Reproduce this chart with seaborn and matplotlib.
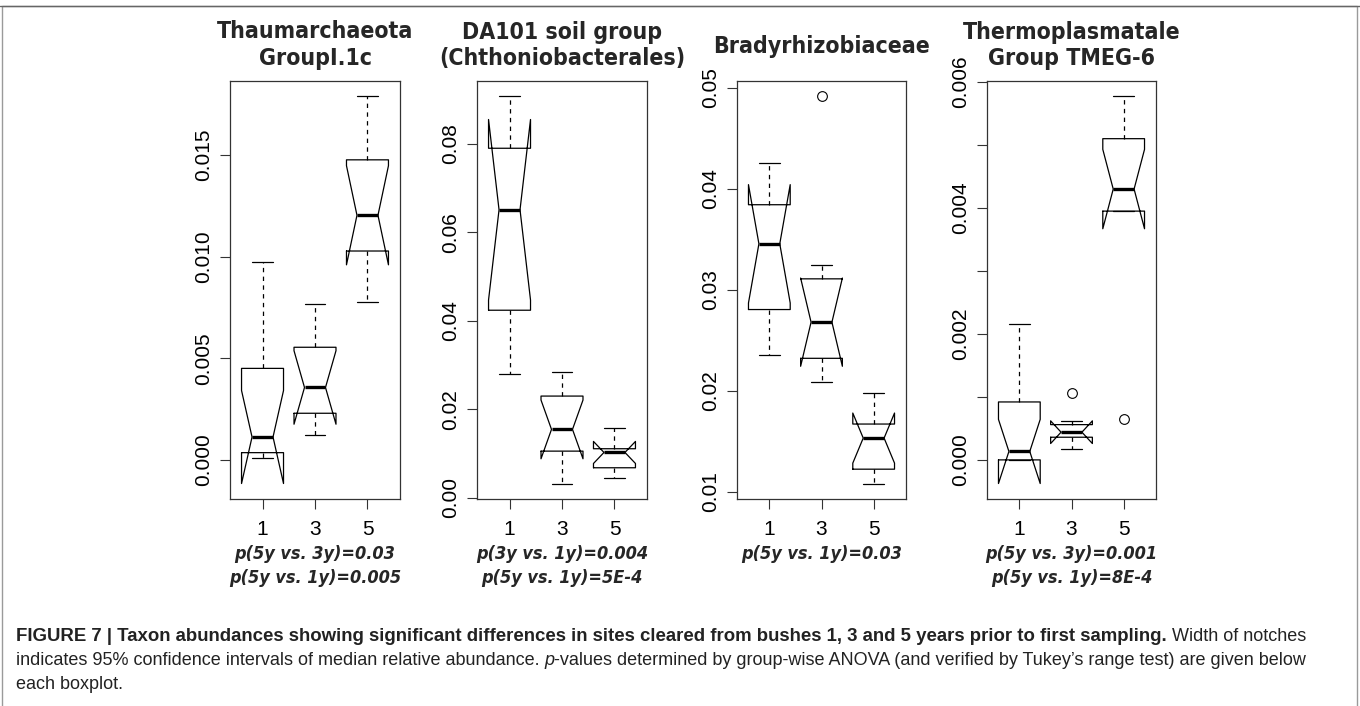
import matplotlib
matplotlib.use("Agg")
import matplotlib.pyplot as plt
from matplotlib import font_manager as fm
from matplotlib.patches import Rectangle
from matplotlib.lines import Line2D
import numpy as np
import seaborn as sns

sns.set_style("ticks")
plt.rcParams["font.family"] = ["Liberation Sans", "DejaVu Sans"]

# ---- data (relative abundance) ----
groups = ["1", "3", "5"]

titles = [["Thaumarchaeota", "GroupI.1c"],
          ["DA101 soil group", "(Chthoniobacterales)"],
          ["Bradyrhizobiaceae"],
          ["Thermoplasmatale", "Group TMEG-6"]]

pvals = [["p(5y vs. 3y)=0.03", "p(5y vs. 1y)=0.005"],
         ["p(3y vs. 1y)=0.004", "p(5y vs. 1y)=5E-4"],
         ["p(5y vs. 1y)=0.03"],
         ["p(5y vs. 3y)=0.001", "p(5y vs. 1y)=8E-4"]]

# Thaumarchaeota GroupI.1c
thaum_whislo = [0.0001, 0.00124, 0.00777]
thaum_q1 = [0.00035, 0.00229, 0.01028]
thaum_med = [0.00112, 0.00356, 0.01204]
thaum_q3 = [0.0045, 0.00554, 0.01477]
thaum_whishi = [0.00972, 0.00767, 0.01789]
thaum_cilo = [-0.00117, 0.00175, 0.0096]
thaum_cihi = [0.00341, 0.00537, 0.01448]
thaum_out = [[], [], []]

# DA101 soil group
da101_whislo = [0.0279, 0.00324, 0.00444]
da101_q1 = [0.0424, 0.01056, 0.0068]
da101_med = [0.0651, 0.01547, 0.01026]
da101_q3 = [0.0790, 0.0230, 0.0111]
da101_whishi = [0.0907, 0.02845, 0.0157]
da101_cilo = [0.0447, 0.00883, 0.00777]
da101_cihi = [0.0855, 0.0221, 0.01275]
da101_out = [[], [], []]

# Bradyrhizobiaceae
brady_whislo = [0.02353, 0.02085, 0.01083]
brady_q1 = [0.02806, 0.02323, 0.01225]
brady_med = [0.03457, 0.02681, 0.01533]
brady_q3 = [0.03844, 0.0311, 0.01672]
brady_whishi = [0.04254, 0.03249, 0.01976]
brady_cilo = [0.02871, 0.02244, 0.01285]
brady_cihi = [0.04043, 0.03118, 0.01781]
brady_out = [[], [0.04916], []]

# Thermoplasmatale Group TMEG-6
tmeg_whislo = [0.0, 0.00018, 0.00395]
tmeg_q1 = [0.0, 0.00036, 0.00395]
tmeg_med = [0.000134, 0.00044, 0.0043]
tmeg_q3 = [0.00092, 0.00056, 0.0051]
tmeg_whishi = [0.00216, 0.00061, 0.00577]
tmeg_cilo = [-0.000375, 0.00026, 0.00367]
tmeg_cihi = [0.000643, 0.00062, 0.00493]
tmeg_out = [[], [0.00107], [0.00065]]

yticks = [[0.0, 0.005, 0.010, 0.015],
          [0.0, 0.02, 0.04, 0.06, 0.08],
          [0.01, 0.02, 0.03, 0.04, 0.05],
          [0.0, 0.001, 0.002, 0.003, 0.004, 0.005, 0.006]]
ytick_labels = [["0.000", "0.005", "0.010", "0.015"],
                ["0.00", "0.02", "0.04", "0.06", "0.08"],
                ["0.01", "0.02", "0.03", "0.04", "0.05"],
                ["0.000", "", "0.002", "", "0.004", "", "0.006"]]

panels = [
    (thaum_whislo, thaum_q1, thaum_med, thaum_q3, thaum_whishi, thaum_cilo, thaum_cihi, thaum_out),
    (da101_whislo, da101_q1, da101_med, da101_q3, da101_whishi, da101_cilo, da101_cihi, da101_out),
    (brady_whislo, brady_q1, brady_med, brady_q3, brady_whishi, brady_cilo, brady_cihi, brady_out),
    (tmeg_whislo, tmeg_q1, tmeg_med, tmeg_q3, tmeg_whishi, tmeg_cilo, tmeg_cihi, tmeg_out),
]


def make_stats(whislo, q1, med, q3, whishi, cilo, cihi, out):
    keys = ["whislo", "q1", "med", "q3", "whishi", "cilo", "cihi", "fliers"]
    return [dict(zip(keys, vals)) for vals in zip(whislo, q1, med, q3, whishi, cilo, cihi, out)]


# the titles look like DejaVu Sans Condensed Bold; fall back if it is missing
cond_path = fm.findfont(fm.FontProperties(family="DejaVu Sans", weight="bold",
                                          stretch="condensed"))
has_cond = "Condensed" in cond_path
if has_cond:
    head_kw = dict(family="DejaVu Sans", stretch="condensed")
    title_size, p_size = 16.6, 13
else:
    head_kw = dict(family="DejaVu Sans")
    title_size, p_size = 15.3, 11.6

W, H = 1360, 706
fig = plt.figure(figsize=(W / 100, H / 100), dpi=100)

# axes placement in pixels (left, right), shared top/bottom
ax_x = [(230, 400), (477, 647), (737, 906), (987, 1156)]
ax_top, ax_bot = 81, 499

line_col = "#333333"
for i, (x0, x1) in enumerate(ax_x):
    ax = fig.add_axes([x0 / W, 1 - ax_bot / H, (x1 - x0) / W, (ax_bot - ax_top) / H])
    stats = make_stats(*panels[i])
    ax.bxp(stats, positions=[1, 2, 3], widths=0.8, capwidths=0.4, shownotches=True,
           showfliers=True, manage_ticks=False,
           boxprops=dict(color="black", lw=0.9),
           medianprops=dict(color="black", lw=2.4, solid_capstyle="butt"),
           whiskerprops=dict(color="black", lw=0.9, linestyle=(0, (3.5, 3.5))),
           capprops=dict(color="black", lw=0.9),
           flierprops=dict(marker="o", markerfacecolor="none",
                           markeredgecolor="black", markersize=7,
                           markeredgewidth=0.8))
    # R-like range: data extremes plus 4 %
    vals = np.concatenate([np.ravel(panels[i][:7])] +
                          [np.array(o, dtype=float) for o in panels[i][7]])
    lo, hi = vals.min(), vals.max()
    pad = 0.04 * (hi - lo)
    ax.set_ylim(lo - pad, hi + pad)
    ax.set_xlim(0.5 - 0.12, 3.5 + 0.12)
    ax.set_xticks([1, 2, 3])
    ax.set_xticklabels(groups)
    ax.set_yticks(yticks[i])
    ax.set_yticklabels(ytick_labels[i], rotation=90, va="center")
    ax.tick_params(axis="both", direction="out", length=7, width=0.8,
                   color=line_col, labelsize=15, labelcolor="black")
    ax.tick_params(axis="y", pad=5)
    ax.tick_params(axis="x", pad=8)
    for sp in ax.spines.values():
        sp.set_color(line_col)
        sp.set_linewidth(0.9)
    ax.set_facecolor("white")

    xc = (x0 + x1) / 2 / W
    title_y = [32, 58] if len(titles[i]) == 2 else [46]
    for txt, ypx in zip(titles[i], title_y):
        fig.text(xc, 1 - ypx / H, txt, ha="center", va="center",
                 fontsize=title_size, weight="bold", **head_kw)
    for txt, ypx in zip(pvals[i], [554, 578]):
        fig.text(xc, 1 - ypx / H, txt, ha="center", va="center",
                 fontsize=p_size, weight="bold", style="italic", **head_kw)

# frame round the whole figure
fig.add_artist(Rectangle((2 / W, -0.01), (W - 5) / W, 1 - 6 / H + 0.01,
                         fill=False, edgecolor="#9a9a9a", lw=1))
fig.add_artist(Line2D([0, 1], [1 - 6 / H, 1 - 6 / H], color="#666666", lw=1))

# caption with mixed styles
cap_family = ["Liberation Sans", "DejaVu Sans"]
cap_size = 13
renderer = fig.canvas.get_renderer()


def text_width(s, size, **kw):
    t = fig.text(0, 0, s, fontsize=size, family=cap_family, **kw)
    w = t.get_window_extent(renderer).width
    t.remove()
    return w


space_w = text_width("x x", cap_size) - text_width("xx", cap_size)

caption_lines = [
    [("FIGURE 7 | Taxon abundances showing significant differences in sites cleared from bushes 1, 3 and 5 years prior to first sampling.", "bold", "normal"),
     ("Width of notches", "normal", "normal")],
    [("indicates 95% confidence intervals of median relative abundance.", "normal", "normal"),
     ("p", "normal", "italic"),
     ("-values determined by group-wise ANOVA (and verified by Tukey\u2019s range test) are given below", "normal", "normal")],
    [("each boxplot.", "normal", "normal")],
]
cap_y = [641, 665, 689]

for line, ypx in zip(caption_lines, cap_y):
    xpx = 16
    for j, (txt, weight, style) in enumerate(line):
        if j > 0 and not txt.startswith("-"):
            xpx += space_w
        size = cap_size * 1.03 if weight == "bold" else cap_size
        t = fig.text(xpx / W, 1 - ypx / H, txt, fontsize=size, family=cap_family,
                     weight=weight, style=style, color="#222222",
                     ha="left", va="baseline")
        xpx += t.get_window_extent(renderer).width

fig.savefig("out.png", dpi=100)
